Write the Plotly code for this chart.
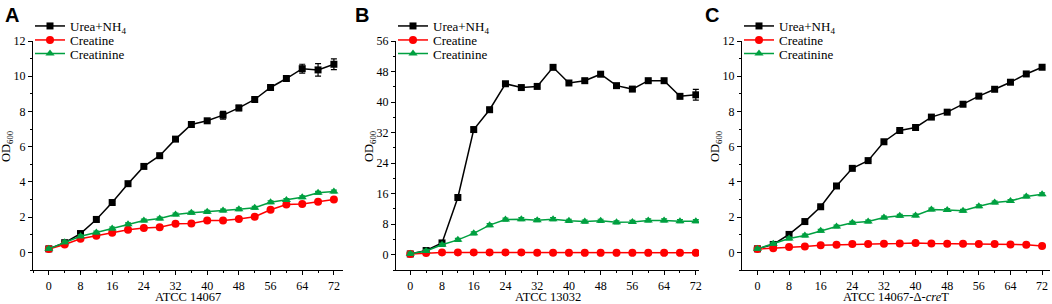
import plotly.graph_objects as go

hours = [0, 4, 8, 12, 16, 20, 24, 28, 32, 36, 40, 44, 48, 52, 56, 60, 64, 68, 72]
series_names = ["Urea+NH<sub>4</sub>", "Creatine", "Creatinine"]
panel_letters = ["A", "B", "C"]
strain_labels = ["ATCC 14067", "ATCC 13032", "ATCC 14067-\u0394-<i>cre</i>T"]
y_title = "OD<sub>600</sub>"

# Panel A (ATCC 14067)
a_urea = [0.2, 0.55, 1.07, 1.87, 2.83, 3.9, 4.88, 5.49, 6.43, 7.26, 7.47, 7.79, 8.2, 8.68, 9.36, 9.87, 10.43, 10.36, 10.68]
a_urea_err = [0.05, 0.05, 0.08, 0.15, 0.08, 0.08, 0.08, 0.08, 0.1, 0.15, 0.08, 0.22, 0.15, 0.08, 0.08, 0.12, 0.25, 0.35, 0.3]
a_creatine = [0.19, 0.45, 0.77, 0.94, 1.11, 1.28, 1.38, 1.43, 1.62, 1.64, 1.81, 1.81, 1.89, 2.02, 2.42, 2.72, 2.75, 2.87, 3.0]
a_creatinine = [0.2, 0.58, 0.92, 1.13, 1.36, 1.6, 1.81, 1.92, 2.15, 2.25, 2.3, 2.38, 2.45, 2.53, 2.85, 2.98, 3.13, 3.38, 3.45]
a_creatinine_err = [0.08] * 19

# Panel B (ATCC 13032)
b_urea = [0.2, 1.1, 3.1, 15.0, 32.8, 38.0, 44.8, 43.8, 44.1, 49.1, 45.0, 45.6, 47.3, 44.3, 43.4, 45.6, 45.6, 41.5, 41.9]
b_urea_err = [0.2, 0.2, 0.3, 0.4, 0.6, 0.4, 0.4, 0.4, 0.4, 0.4, 0.4, 0.4, 0.4, 0.4, 0.4, 0.4, 0.4, 0.5, 1.4]
b_creatine = [0.2, 0.45, 0.6, 0.6, 0.6, 0.6, 0.6, 0.6, 0.55, 0.55, 0.5, 0.5, 0.5, 0.5, 0.5, 0.5, 0.5, 0.5, 0.5]
b_creatinine = [0.26, 1.0, 2.6, 3.9, 5.6, 7.75, 9.2, 9.3, 9.05, 9.3, 8.9, 8.7, 8.9, 8.5, 8.6, 9.0, 9.0, 8.8, 8.8]
b_creatinine_err = [0.4] * 19

# Panel C (ATCC 14067-delta-creT)
c_urea = [0.2, 0.45, 1.02, 1.75, 2.59, 3.77, 4.77, 5.21, 6.28, 6.92, 7.09, 7.68, 7.96, 8.41, 8.87, 9.26, 9.66, 10.13, 10.51]
c_urea_err = [0.05] * 19
c_creatine = [0.19, 0.23, 0.3, 0.34, 0.4, 0.43, 0.47, 0.48, 0.49, 0.5, 0.53, 0.5, 0.49, 0.49, 0.48, 0.47, 0.45, 0.44, 0.36]
c_creatinine = [0.2, 0.49, 0.79, 0.96, 1.23, 1.47, 1.68, 1.75, 1.98, 2.08, 2.09, 2.43, 2.41, 2.36, 2.62, 2.83, 2.92, 3.17, 3.3]
c_creatinine_err = [0.08] * 19

y_ranges = [[-1, 12], [-4, 56], [-1, 12]]
y_dticks = [2, 8, 2]

W, H = 1052, 304
SERIF = "Liberation Serif"
colors = ["#000000", "#ff0000", "#00a040"]
symbols = ["square", "circle", "triangle-up"]
msizes = [7, 8, 8]

panels = [
    (a_urea, a_urea_err, a_creatine, a_creatinine, a_creatinine_err),
    (b_urea, b_urea_err, b_creatine, b_creatinine, b_creatinine_err),
    (c_urea, c_urea_err, c_creatine, c_creatinine, c_creatinine_err),
]

x_dom_px = [(33, 343), (396, 699), (742, 1050)]
x_ranges = [[-4.0, 74.3], [-3.6, 72.8], [-3.9, 74.0]]
y_dom = [1 - 270 / H, 1 - 41 / H]

fig = go.Figure()
leg_layouts = {}
leg_count = 0
for p, (urea, urea_err, crt, crn, crn_err) in enumerate(panels):
    xa = "x" if p == 0 else f"x{p+1}"
    ya = "y" if p == 0 else f"y{p+1}"
    ys = [urea, crt, crn]
    errs = [urea_err, None, crn_err]
    for s in range(3):
        leg_count += 1
        lname = "legend" if leg_count == 1 else f"legend{leg_count}"
        tr = dict(
            x=hours, y=ys[s], name=series_names[s], mode="lines+markers",
            line=dict(color=colors[s], width=1.5),
            marker=dict(symbol=symbols[s], size=msizes[s], color=colors[s]),
            xaxis=xa, yaxis=ya, legend=lname, showlegend=True,
        )
        if errs[s] is not None:
            tr["error_y"] = dict(type="data", array=errs[s], visible=True,
                                 color=colors[s], thickness=1.2, width=3)
        fig.add_trace(go.Scatter(**tr))
        item_y = [26, 40, 53.5][s]
        leg_layouts[lname] = dict(
            x=(x_dom_px[p][0] - 3) / W, xanchor="left",
            y=1 - item_y / H, yanchor="middle",
            bgcolor="rgba(0,0,0,0)", borderwidth=0,
            font=dict(family=SERIF, size=13, color="black"),
            itemclick=False, itemdoubleclick=False,
        )

    axis_common = dict(
        showline=True, linecolor="black", linewidth=1.3, mirror=False,
        showgrid=False, zeroline=False, ticks="outside", ticklen=4,
        tickwidth=1, tickcolor="black", automargin=False,
        tickfont=dict(family=SERIF, size=12, color="black"),
    )
    xkey = "xaxis" if p == 0 else f"xaxis{p+1}"
    ykey = "yaxis" if p == 0 else f"yaxis{p+1}"
    fig.update_layout(**{
        xkey: dict(
            axis_common, domain=[x_dom_px[p][0] / W, x_dom_px[p][1] / W],
            range=x_ranges[p], tick0=0, dtick=8, anchor=ya,
            minor=dict(ticks="outside", ticklen=2, dtick=4, tick0=0, tickcolor="black"),
        ),
        ykey: dict(
            axis_common, domain=y_dom, range=y_ranges[p], tick0=0, dtick=y_dticks[p],
            anchor=xa,
            minor=dict(ticks="outside", ticklen=2, dtick=y_dticks[p] / 2, tick0=0, tickcolor="black"),
        ),
    })
    # panel letter
    fig.add_annotation(
        text=f"<b>{panel_letters[p]}</b>", xref="paper", yref="paper",
        x=[3, 353, 703][p] / W, y=1 - 2 / H, xanchor="left", yanchor="top",
        showarrow=False, font=dict(family="Liberation Sans", size=20, color="black"),
    )
    # x axis title
    fig.add_annotation(
        text=strain_labels[p], xref="paper", yref="paper",
        x=(x_dom_px[p][0] + x_dom_px[p][1]) / 2 / W, y=1 - 297 / H,
        xanchor="center", yanchor="middle", showarrow=False,
        font=dict(family=SERIF, size=12.5, color="black"),
    )
    # y axis title
    fig.add_annotation(
        text=y_title, xref="paper", yref="paper", textangle=-90,
        x=(x_dom_px[p][0] - 26) / W, y=1 - 146 / H,
        xanchor="center", yanchor="middle", showarrow=False,
        font=dict(family=SERIF, size=12.5, color="black"),
    )

fig.update_layout(
    width=W, height=H, margin=dict(l=0, r=0, t=0, b=0, autoexpand=False),
    plot_bgcolor="white", paper_bgcolor="white",
    **leg_layouts,
)

fig.write_html("out.html", config={"displayModeBar": False},
               post_script="document.body.style.margin='0';")
